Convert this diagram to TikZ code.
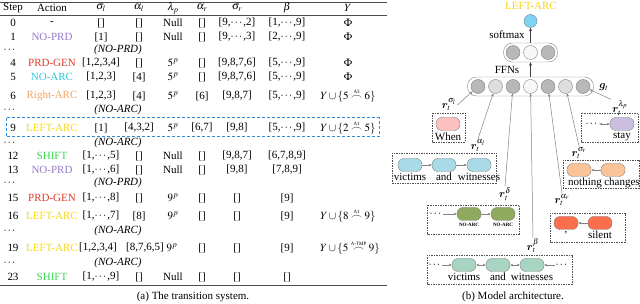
\documentclass[tikz,border=0pt]{standalone}
\usepackage{amsmath,bm}
\usepackage{mathptmx}
\usepackage{fontspec}
\setmainfont{Liberation Serif}
\usetikzlibrary{arrows.meta,positioning}

\definecolor{noprd}{RGB}{150,122,200}
\definecolor{prdgen}{RGB}{228,55,40}
\definecolor{noarc}{RGB}{45,200,218}
\definecolor{rarc}{RGB}{244,162,96}
\definecolor{larc}{RGB}{246,216,20}
\definecolor{shiftc}{RGB}{60,215,85}
\definecolor{hidark}{RGB}{184,184,184}
\definecolor{hilight}{RGB}{222,222,222}
\definecolor{hiwhite}{RGB}{247,247,247}
\definecolor{outblue}{RGB}{125,212,242}
\definecolor{whenpink}{RGB}{255,192,192}
\definecolor{alblue}{RGB}{168,218,232}
\definecolor{deolive}{RGB}{143,170,94}
\definecolor{bemint}{RGB}{168,213,194}
\definecolor{srpeach}{RGB}{251,196,152}
\definecolor{artomato}{RGB}{253,110,76}
\definecolor{lplilac}{RGB}{203,190,224}
\definecolor{edgegray}{RGB}{130,130,130}
\definecolor{boxgray}{RGB}{80,80,80}
\definecolor{dashblue}{RGB}{46,140,224}

\tikzset{
  tcell/.style={inner sep=0.5pt},
  tokbox/.style={draw=edgegray, fill=#1, rounded corners=6pt, minimum width=24pt, minimum height=13pt, inner sep=0pt},
  hunit/.style={circle, draw=edgegray, fill=#1, minimum size=14pt, inner sep=0pt},
  ffnbox/.style={draw=edgegray, rounded corners=9pt, inner sep=0pt},
  wordtxt/.style={inner sep=0.5pt},
  tagtxt/.style={font=\fontsize{5}{6}\selectfont\bfseries, inner sep=0.5pt},
  ctxbox/.style={draw=boxgray, line width=0.9pt, dash pattern=on 1.5pt off 1pt},
  chainarr/.style={draw=edgegray, line width=0.6pt, -{Stealth[length=3pt,width=2.6pt]}},
  feedarr/.style={draw=gray, line width=0.5pt, -{Stealth[length=3pt,width=2.4pt]}},
  uparr/.style={draw=black!75, line width=0.7pt, -{Stealth[length=3.5pt,width=3pt]}},
}

\begin{document}
\begin{tikzpicture}[x=1pt,y=-1pt,font=\fontsize{11}{13}\selectfont]
  \useasboundingbox (0,0) rectangle (640,304);
  % (a) transition table
  \draw[black!70,line width=0.9pt] (0,2.5) -- (387,2.5);
  \draw[black!70,line width=0.5pt] (0,15.5) -- (387,15.5);
  \draw[black!70,line width=0.9pt] (0,285) -- (387,285);
  \node[tcell] (h-step) at (13,8) {Step};
  \node[tcell] (h-act) at (52,8) {Action};
  \node[tcell] (h-sgl) at (101,8) {$\sigma_l$};
  \node[tcell] (h-alp) at (139,8) {$\alpha_l$};
  \node[tcell] (h-lam) at (173,8) {$\lambda_p$};
  \node[tcell] (h-alr) at (202,8) {$\alpha_r$};
  \node[tcell] (h-sgr) at (237,8) {$\sigma_r$};
  \node[tcell] (h-bet) at (287,8) {$\beta$};
  \node[tcell] (h-why) at (348,8) {$Y$};
  \foreach \yy/\stp/\act/\sgl/\alp/\lam/\alr/\sgr/\bet/\why in {
    23/0/-/{[]}/{[]}/Null/{[]}/{[9,$\cdots$,2]}/{[1,$\cdots$,9]}/{$\Phi$},
    37/1/\textcolor{noprd}{NO-PRD}/{[1]}/{[]}/Null/{[]}/{[9,$\cdots$,3]}/{[2,$\cdots$,9]}/{$\Phi$},
    63/4/\textcolor{prdgen}{PRD-GEN}/{[1,2,3,4]}/{[]}/{$5^p$}/{[]}/{[9,8,7,6]}/{[5,$\cdots$,9]}/{$\Phi$},
    77/5/\textcolor{noarc}{NO-ARC}/{[1,2,3]}/{[4]}/{$5^p$}/{[]}/{[9,8,7,6]}/{[5,$\cdots$,9]}/{$\Phi$},
    96/6/\textcolor{rarc}{Right-ARC}/{[1,2,3]}/{[4]}/{$5^p$}/{[6]}/{[9,8,7]}/{[5,$\cdots$,9]}/{$Y\cup\{5\overset{\text{\tiny A3}}{\frown}6\}$},
    128/9/\textcolor{larc}{LEFT-ARC}/{[1]}/{[4,3,2]}/{$5^p$}/{[6,7]}/{[9,8]}/{[5,$\cdots$,9]}/{$Y\cup\{2\overset{\text{\tiny A1}}{\frown}5\}$},
    156/12/\textcolor{shiftc}{SHIFT}/{[1,$\cdots$,5]}/{[]}/Null/{[]}/{[9,8,7]}/{[6,7,8,9]}/{},
    170/13/\textcolor{noprd}{NO-PRD}/{[1,$\cdots$,6]}/{[]}/Null/{[]}/{[9,8]}/{[7,8,9]}/{},
    198/15/\textcolor{prdgen}{PRD-GEN}/{[1,$\cdots$,8]}/{[]}/{$9^p$}/{[]}/{[]}/{[9]}/{},
    216/16/\textcolor{larc}{LEFT-ARC}/{[1,$\cdots$,7]}/{[8]}/{$9^p$}/{[]}/{[]}/{[9]}/{$Y\cup\{8\overset{\text{\tiny A1}}{\frown}9\}$},
    277/23/\textcolor{shiftc}{SHIFT}/{[1,$\cdots$,9]}/{[]}/Null/{[]}/{[]}/{[]}/{}}
  {
    \node[tcell] (stp-\stp) at (13,\yy) {\stp};
    \node[tcell] (act-\stp) at (52,\yy) {\act};
    \node[tcell] (sgl-\stp) at (101,\yy) {\sgl};
    \node[tcell] (alp-\stp) at (139,\yy) {\alp};
    \node[tcell] (lam-\stp) at (173,\yy) {\lam};
    \node[tcell] (alr-\stp) at (202,\yy) {\alr};
    \node[tcell] (sgr-\stp) at (237,\yy) {\sgr};
    \node[tcell] (bet-\stp) at (287,\yy) {\bet};
    \node[tcell] (why-\stp) at (348,\yy) {\why};
  }
  % step 19 has a wider alpha_l
  \node[tcell] (stp-19) at (13,248) {19};
  \node[tcell] (act-19) at (52,248) {\textcolor{larc}{LEFT-ARC}};
  \node[tcell] (sgl-19) at (98,248) {[1,2,3,4]};
  \node[tcell] (alp-19) at (145,248) {[8,7,6,5]};
  \node[tcell] (lam-19) at (172,248) {$9^p$};
  \node[tcell] (alr-19) at (202,248) {[]};
  \node[tcell] (sgr-19) at (237,248) {[]};
  \node[tcell] (bet-19) at (287,248) {[9]};
  \node[tcell] (why-19) at (350,248) {$Y\cup\{5\overset{\text{\tiny A-TMP}}{\frown}9\}$};
  \foreach \yy/\txt [count=\k] in {50/NO-PRD,110/NO-ARC,143/NO-ARC,183/NO-PRD,231/NO-ARC,263/NO-ARC}
  {
    \node[tcell] (dots-\k) at (10,\yy) {$\cdots$};
    \node[tcell] (skip-\k) at (118,\yy) {\textit{(\txt)}};
  }
  \draw[dashblue,line width=1pt,dash pattern=on 3pt off 2pt] (6,118) rectangle (379,137);
  \node (cap-a) at (193,297) {(a) The transition system.};

  % (b) model
  \node[text=larc] (pred) at (531,6) {LEFT-ARC};
  \node[hunit=outblue, minimum size=13pt] (out) at (530.5,21) {};
  \node[ffnbox, minimum width=54pt, minimum height=19pt] (soft) at (530.5,52.5) {};
  \node[hunit=hidark] (s1) at (513,52.5) {};
  \node[hunit=hiwhite] (s2) at (530.5,52.5) {};
  \node[hunit=hidark] (s3) at (548,52.5) {};
  \node (lab-soft) at (507,35) {softmax};
  \node (lab-ffn) at (507,70) {FFNs};
  \node[ffnbox, minimum width=126pt, minimum height=19pt] (ffn) at (530.5,86.5) {};
  \foreach \i/\c in {1/hidark,2/hilight,3/hidark,4/hiwhite,5/hidark,6/hilight,7/hidark}
    \node[hunit=\c] (h\i) at (460.5+17.5*\i,86.5) {};
  \node (lab-g) at (604,87) {$\boldsymbol{g}_t$};
  \draw[uparr] (soft.north) -- (out.south);
  \draw[uparr] (ffn.north) -- (soft.south);

  % feature labels
  \node[inner sep=1pt] (r-sl) at (449,105) {$\boldsymbol{r}_t^{\sigma_l}$};
  \node[inner sep=1pt] (r-al) at (478,146) {$\boldsymbol{r}_t^{\alpha_l}$};
  \node[inner sep=1pt] (r-de) at (505,194) {$\boldsymbol{r}_t^{\delta}$};
  \node[inner sep=1pt] (r-be) at (533,246) {$\boldsymbol{r}_t^{\beta}$};
  \node[inner sep=1pt] (r-ar) at (562,200) {$\boldsymbol{r}_t^{\alpha_r}$};
  \node[inner sep=1pt] (r-sr) at (579,153) {$\boldsymbol{r}_t^{\sigma_r}$};
  \node[inner sep=1pt] (r-lp) at (620,108) {$\boldsymbol{r}_t^{\lambda_p}$};
  \draw[feedarr] (r-sl.east) -- (h1);
  \draw[feedarr] (r-al.north) -- (h2);
  \draw[feedarr] (r-de.north) -- (h3);
  \draw[feedarr] (r-be.north) -- (h4);
  \draw[feedarr] (r-ar.north) -- (h5);
  \draw[feedarr] (r-sr.north) -- (h6);
  \draw[feedarr] (r-lp.north west) -- (h7);

  % sigma_l
  \draw[ctxbox] (432,113) rectangle (465,142);
  \node[tokbox=whenpink] (sl1) at (448,124) {};
  \node[wordtxt, below=1pt of sl1] (sl1-w) {When};
  % alpha_l
  \draw[ctxbox] (392,153) rectangle (496,183);
  \node[tokbox=alblue] (al1) at (410,165) {};
  \node[tokbox=alblue] (al2) at (444,165) {};
  \node[tokbox=alblue] (al3) at (479,165) {};
  \node[wordtxt, below=0.5pt of al1] (al1-w) {victims};
  \node[wordtxt, below=0.5pt of al2] (al2-w) {and};
  \node[wordtxt, below=0.5pt of al3] (al3-w) {witnesses};
  \draw[chainarr] (al1) -- (al2);
  \draw[chainarr] (al2) -- (al3);
  % lambda_p
  \draw[ctxbox] (581,113) rectangle (638,142);
  \node[inner sep=0.5pt] (lp0) at (592,124) {$\cdots$};
  \node[tokbox=lplilac] (lp1) at (622,124) {};
  \node[wordtxt, below=1pt of lp1] (lp1-w) {stay};
  \draw[chainarr, {Stealth[length=3pt,width=2.6pt]}-{Stealth[length=3pt,width=2.6pt]}] (lp0) -- (lp1);
  % sigma_r
  \draw[ctxbox] (563,160) rectangle (639,188);
  \node[tokbox=srpeach] (sr1) at (579,170) {};
  \node[tokbox=srpeach] (sr2) at (613,170) {};
  \node[wordtxt] (sr1-w) at (585,182.5) {nothing};
  \node[wordtxt] (sr2-w) at (622,182.5) {changes};
  \draw[chainarr] (sr2) -- (sr1);
  % delta
  \draw[ctxbox] (427,205) rectangle (519,234);
  \node[inner sep=0.5pt] (de0) at (436,214) {$\cdots$};
  \node[tokbox=deolive] (de1) at (469,214) {};
  \node[tokbox=deolive] (de2) at (503,214) {};
  \node[tagtxt, below=2pt of de1] (de1-w) {NO-ARC};
  \node[tagtxt, below=2pt of de2] (de2-w) {NO-ARC};
  \draw[chainarr] (de0) -- (de1);
  \draw[chainarr] (de1) -- (de2);
  % alpha_r
  \draw[ctxbox] (550,213) rectangle (625,242);
  \node[tokbox=artomato] (ar1) at (566,223) {};
  \node[tokbox=artomato] (ar2) at (600,223) {};
  \node[wordtxt, below=0.5pt of ar1] (ar1-w) {,};
  \node[wordtxt, below=0.5pt of ar2] (ar2-w) {silent};
  \draw[chainarr] (ar2) -- (ar1);
  % beta
  \draw[ctxbox] (427,255) rectangle (572,284);
  \node[inner sep=0.5pt] (be0) at (435,265) {$\cdots$};
  \node[tokbox=bemint] (be1) at (464,265) {};
  \node[tokbox=bemint] (be2) at (498,265) {};
  \node[tokbox=bemint] (be3) at (532,265) {};
  \node[inner sep=0.5pt] (be4) at (562,265) {$\cdots$};
  \node[wordtxt, below=0.5pt of be1] (be1-w) {victims};
  \node[wordtxt, below=0.5pt of be2] (be2-w) {and};
  \node[wordtxt, below=0.5pt of be3] (be3-w) {witnesses};
  \draw[chainarr] (be0) -- (be1);
  \draw[chainarr, {Stealth[length=3pt,width=2.6pt]}-{Stealth[length=3pt,width=2.6pt]}] (be1) -- (be2);
  \draw[chainarr, {Stealth[length=3pt,width=2.6pt]}-{Stealth[length=3pt,width=2.6pt]}] (be2) -- (be3);
  \draw[chainarr] (be4) -- (be3);
  \node (cap-b) at (513,297) {(b) Model architecture.};
\end{tikzpicture}
\end{document}
